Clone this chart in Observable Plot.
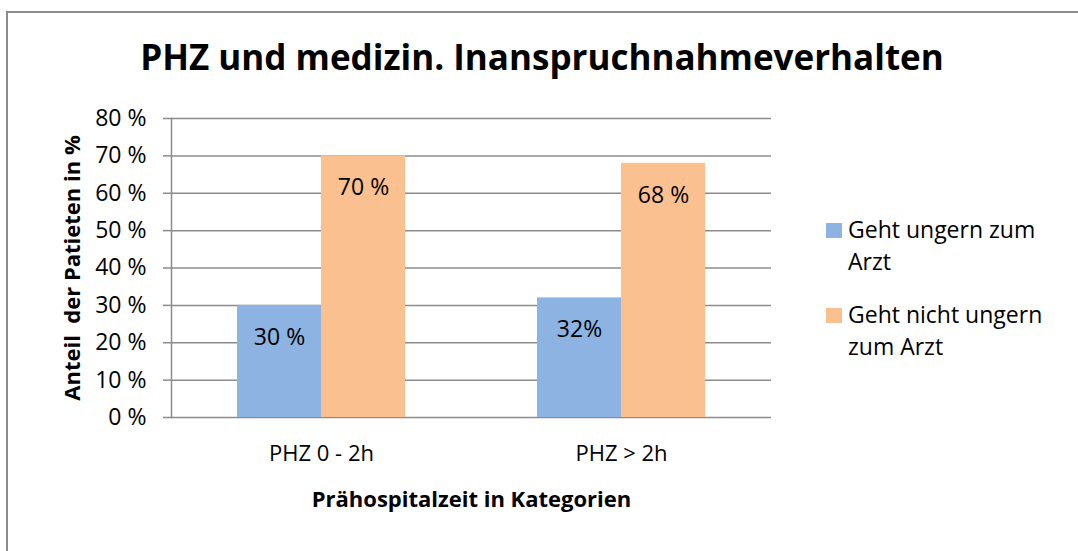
<!DOCTYPE html>
<html>
<head>
<meta charset="utf-8">
<script src="https://cdn.jsdelivr.net/npm/d3@7"></script>
<script src="https://cdn.jsdelivr.net/npm/@observablehq/plot@0.6"></script>
<style>
  body { margin: 0; background: #fff; font-family: "Open Sans", sans-serif; color: #000; }
  #wrap { position: relative; width: 1078px; height: 551px; overflow: hidden; }
  #border { position: absolute; left: 6px; top: 11px; width: 1200px; height: 700px; border: 2px solid #8c8c8c; box-sizing: border-box; }
  #title { position: absolute; left: 6px; width: 1072px; top: 35px; text-align: center; font-weight: bold; font-size: 35px; line-height: 43px; }
  #chart { position: absolute; left: 0; top: 0; }
  #legend { position: absolute; left: 826px; top: 213px; font-size: 23px; line-height: 32px; }
  .item { display: flex; align-items: flex-start; margin-bottom: 21px; }
  .sw { width: 16px; height: 15px; margin-top: 10px; margin-right: 6px; flex: none; }
  .lab { width: 215px; }
  g[aria-label="y-axis label"] text { font-weight: bold; white-space: pre; font-size: 22px; }
  g[aria-label="fx-axis label"] text { font-weight: bold; white-space: pre; font-size: 22px; }
</style>
</head>
<body>
<div id="wrap">
  <div id="border"></div>
  <div id="title"></div>
  <div id="chart"></div>
  <div id="legend"></div>
</div>
<script>
const chartTitle = "PHZ und medizin. Inanspruchnahmeverhalten";
const categories = ["PHZ 0 - 2h", "PHZ > 2h"];
const seriesNames = ["Geht ungern zum Arzt", "Geht nicht ungern zum Arzt"];
const valuesUngern = [30, 32];
const valuesNichtUngern = [70, 68];
const labelsUngern = ["30 %", "32%"];
const labelsNichtUngern = ["70 %", "68 %"];
const seriesColors = ["#8DB3E2", "#FAC08F"];
const yTicks = [0, 10, 20, 30, 40, 50, 60, 70, 80];
const yTickLabels = ["0 %", "10 %", "20 %", "30 %", "40 %", "50 %", "60 %", "70 %", "80 %"];
const yLabel = "Anteil  der Patieten in %";
const xLabel = "Prähospitalzeit in Kategorien";

const rows = [];
categories.forEach((c, i) => {
  rows.push({category: c, series: seriesNames[0], value: valuesUngern[i], label: labelsUngern[i]});
  rows.push({category: c, series: seriesNames[1], value: valuesNichtUngern[i], label: labelsNichtUngern[i]});
});

document.getElementById("title").textContent = chartTitle;

const plot = Plot.plot({
  width: 1078,
  height: 551,
  marginTop: 118,
  marginBottom: 134,
  marginLeft: 170,
  marginRight: 307,
  style: {fontFamily: "'Open Sans', sans-serif", fontSize: "20px", color: "#000", background: "transparent"},
  fx: {domain: categories, padding: 0},
  x: {domain: seriesNames, paddingInner: 0, paddingOuter: 0.765, axis: null},
  y: {domain: [0, 80]},
  color: {domain: seriesNames, range: seriesColors},
  marks: [
    Plot.gridY(yTicks, {stroke: "#8c8c8c", strokeOpacity: 1, strokeWidth: 1.5}),
    Plot.barY(rows, {fx: "category", x: "series", y: "value", fill: "series"}),
    Plot.text(rows, {fx: "category", x: "series", y: "value", text: "label", dy: 32, fontSize: 23, fill: "#000"}),
    Plot.axisY(yTicks, {
      tickSize: 8, tickPadding: 17, stroke: "#8c8c8c", strokeWidth: 1.5, fontSize: 23,
      tickFormat: d => yTickLabels[yTicks.indexOf(d)],
      label: yLabel, labelAnchor: "center", labelOffset: 107, labelArrow: "none"
    }),
    Plot.axisFx({anchor: "bottom", tickSize: 0, tickPadding: 28, fontSize: 22, label: xLabel, labelAnchor: "center", labelOffset: 89, labelArrow: "none"}),
    Plot.frame({anchor: "left", facet: "super", stroke: "#8c8c8c", strokeWidth: 1.5})
  ]
});
document.getElementById("chart").appendChild(plot);

const legend = document.getElementById("legend");
seriesNames.forEach((s, i) => {
  const item = document.createElement("div");
  item.className = "item";
  const sw = document.createElement("div");
  sw.className = "sw";
  sw.style.background = seriesColors[i];
  const lab = document.createElement("div");
  lab.className = "lab";
  lab.textContent = s;
  item.appendChild(sw);
  item.appendChild(lab);
  legend.appendChild(item);
});
</script>
</body>
</html>
